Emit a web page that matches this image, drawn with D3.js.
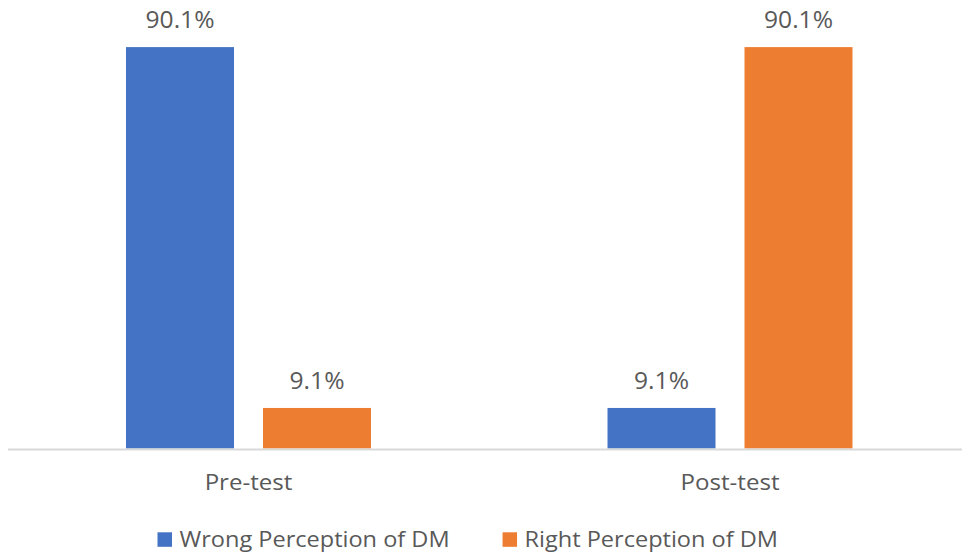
<!DOCTYPE html>
<html><head><meta charset="utf-8">
<script src="https://cdn.jsdelivr.net/npm/d3@7"></script>
<style>
body{margin:0;background:#fff;}
svg text{font-family:"Open Sans","Noto Sans",sans-serif;fill:#595959;}
</style></head>
<body><svg id="c" width="962" height="553"></svg>
<script>
const categories = ["Pre-test", "Post-test"];
const seriesNames = ["Wrong Perception of DM", "Right Perception of DM"];
const wrongValues = [90.1, 9.1];
const rightValues = [9.1, 90.1];
const colors = ["#4472C4", "#ED7D31"];

const svg = d3.select("#c");
const baseY = 448.5;
const SX = 1.07; // horizontal text stretch

const x0 = d3.scaleBand().domain(categories).range([7.75, 970.75])
  .paddingInner(0.4912).paddingOuter(0.2456);
const x1 = d3.scaleBand().domain(seriesNames).range([0, x0.bandwidth()])
  .paddingInner(0.2117).paddingOuter(0);
const y = d3.scaleLinear().domain([0, 100]).range([baseY, 3]);

const data = categories.map((c, i) => ({
  cat: c,
  vals: [ {s: seriesNames[0], v: wrongValues[i], col: colors[0]},
          {s: seriesNames[1], v: rightValues[i], col: colors[1]} ]
}));

const g = svg.selectAll("g.grp").data(data).join("g")
  .attr("class", "grp")
  .attr("transform", d => `translate(${x0(d.cat)},0)`);

g.selectAll("rect").data(d => d.vals).join("rect")
  .attr("x", d => x1(d.s))
  .attr("y", d => y(d.v))
  .attr("width", x1.bandwidth())
  .attr("height", d => baseY - y(d.v))
  .attr("fill", d => d.col);

g.selectAll("g.lbl").data(d => d.vals).join("g")
  .attr("class", "lbl")
  .attr("transform", d => `translate(${x1(d.s) + x1.bandwidth() / 2},${y(d.v) - 19}) scale(${SX},1)`)
  .append("text")
  .attr("text-anchor", "middle")
  .style("font-size", "23px")
  .text(d => d.v.toFixed(1) + "%");

// axis
const xAxis = d3.axisBottom(x0).tickSize(0).tickPadding(0);
const ax = svg.append("g").attr("transform", `translate(0,${baseY + 1})`).call(xAxis);
ax.select(".domain").attr("stroke", "#D9D9D9").attr("stroke-width", 2)
  .attr("d", `M8,0H962`);
ax.selectAll(".tick text")
  .attr("y", 0).attr("dy", null)
  .attr("transform", `translate(0,40.5) scale(${SX},1)`)
  .style("font-size", "22.5px")
  .attr("fill", "#595959").style("font-family", '"Open Sans","Noto Sans",sans-serif');

// legend
const leg = svg.append("g");
const items = leg.selectAll("g").data(seriesNames).join("g");
items.append("rect").attr("width", 14.5).attr("height", 14.5)
  .attr("fill", (d, i) => colors[i]);
items.append("g").attr("transform", `translate(22,14.5) scale(${SX},1)`)
  .append("text").style("font-size", "22px").text(d => d);
let xs = [];
let cur = 0;
items.each(function(d, i) {
  const w = d3.select(this).select("text").node().getComputedTextLength() * SX;
  xs.push(cur);
  cur += 22 + w + 53;
});
items.attr("transform", (d, i) => `translate(${157.5 + xs[i]},${532.3})`);
</script></body></html>
